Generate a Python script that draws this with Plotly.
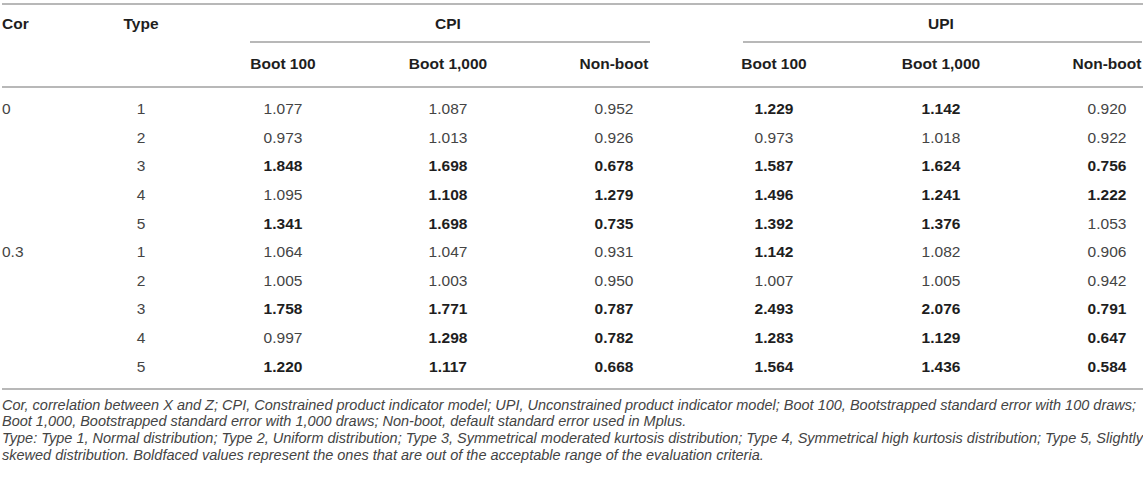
import plotly.graph_objects as go

# table contents
cor_levels = ["0", "0.3"]
types = [1, 2, 3, 4, 5]

col_groups = ["CPI", "UPI"]
col_headers = ["Boot 100", "Boot 1,000", "Non-boot"]

cpi_boot100 = [1.077, 0.973, 1.848, 1.095, 1.341, 1.064, 1.005, 1.758, 0.997, 1.220]
cpi_boot1000 = [1.087, 1.013, 1.698, 1.108, 1.698, 1.047, 1.003, 1.771, 1.298, 1.117]
cpi_nonboot = [0.952, 0.926, 0.678, 1.279, 0.735, 0.931, 0.950, 0.787, 0.782, 0.668]
upi_boot100 = [1.229, 0.973, 1.587, 1.496, 1.392, 1.142, 1.007, 2.493, 1.283, 1.564]
upi_boot1000 = [1.142, 1.018, 1.624, 1.241, 1.376, 1.082, 1.005, 2.076, 1.129, 1.436]
upi_nonboot = [0.920, 0.922, 0.756, 1.222, 1.053, 0.906, 0.942, 0.791, 0.647, 0.584]

# boldfaced = out of acceptable range
cpi_boot100_bold = [0, 0, 1, 0, 1, 0, 0, 1, 0, 1]
cpi_boot1000_bold = [0, 0, 1, 1, 1, 0, 0, 1, 1, 1]
cpi_nonboot_bold = [0, 0, 1, 1, 1, 0, 0, 1, 1, 1]
upi_boot100_bold = [1, 0, 1, 1, 1, 1, 0, 1, 1, 1]
upi_boot1000_bold = [1, 0, 1, 1, 1, 0, 0, 1, 1, 1]
upi_nonboot_bold = [0, 0, 1, 1, 0, 0, 0, 1, 1, 1]

footnotes = [
    "Cor, correlation between X and Z; CPI, Constrained product indicator model; UPI, Unconstrained product indicator model; Boot 100, Bootstrapped standard error with 100 draws;",
    "Boot 1,000, Bootstrapped standard error with 1,000 draws; Non-boot, default standard error used in Mplus.",
    "Type: Type 1, Normal distribution; Type 2, Uniform distribution; Type 3, Symmetrical moderated kurtosis distribution; Type 4, Symmetrical high kurtosis distribution; Type 5, Slightly",
    "skewed distribution. Boldfaced values represent the ones that are out of the acceptable range of the evaluation criteria.",
]

# layout (pixel-like axis units)
W, H = 1143, 477
FONT = "Liberation Sans, Arial, Helvetica, sans-serif"
TXT = "#444444"
BOLD = "#1e1e1e"
RULE = "#b8b8b8"
X_COR = 0
X_TYPE = 139
X_COLS = [281, 446, 612, 772, 939, 1105]
Y_HEAD1 = 25
Y_HEAD2 = 65
ROW0, ROW_H = 110, 28.66
Y_NOTE0, NOTE_H = 406, 16.8

values = [cpi_boot100, cpi_boot1000, cpi_nonboot, upi_boot100, upi_boot1000, upi_nonboot]
bolds = [cpi_boot100_bold, cpi_boot1000_bold, cpi_nonboot_bold,
         upi_boot100_bold, upi_boot1000_bold, upi_nonboot_bold]

n_rows = len(cor_levels) * len(types)
row_y = [ROW0 + i * ROW_H for i in range(n_rows)]

fig = go.Figure()


def add_text(xs, ys, texts, pos="middle center", size=15.5, color=TXT):
    fig.add_trace(go.Scatter(
        x=xs, y=ys, text=texts, mode="text", textposition=pos,
        textfont=dict(family=FONT, size=size, color=color),
        hoverinfo="skip", showlegend=False,
    ))


# header row 1
add_text([X_COR], [Y_HEAD1], ["<b>Cor</b>"], pos="middle right", color=BOLD)
add_text([X_TYPE], [Y_HEAD1], ["<b>Type</b>"], color=BOLD)
add_text([X_COLS[1], X_COLS[4]], [Y_HEAD1, Y_HEAD1],
         [f"<b>{g}</b>" for g in col_groups], color=BOLD)

# header row 2
hdr_t = [f"<b>{h}</b>" for h in col_headers] * len(col_groups)
add_text(X_COLS, [Y_HEAD2] * len(X_COLS), hdr_t, color=BOLD)

# cor / type columns
cor_col = []
for c in cor_levels:
    cor_col += [c] + [""] * (len(types) - 1)
add_text([X_COR] * n_rows, row_y, cor_col, pos="middle right")
add_text([X_TYPE] * n_rows, row_y, [str(t) for t in types] * len(cor_levels))

# values
for x, vals, bflags in zip(X_COLS, values, bolds):
    reg_y = [y for y, b in zip(row_y, bflags) if not b]
    reg_t = [f"{v:.3f}" for v, b in zip(vals, bflags) if not b]
    bld_y = [y for y, b in zip(row_y, bflags) if b]
    bld_t = [f"<b>{v:.3f}</b>" for v, b in zip(vals, bflags) if b]
    add_text([x] * len(reg_y), reg_y, reg_t)
    add_text([x] * len(bld_y), bld_y, bld_t, color=BOLD)

# footnotes
note_y = [Y_NOTE0 + i * NOTE_H for i in range(len(footnotes))]
add_text([X_COR] * len(footnotes), note_y, [f"<i>{t}</i>" for t in footnotes],
         pos="middle right", size=14.5, color=TXT)

# rules
rules = [
    (0, W, 4),
    (248, 648, 42),
    (741, 1140, 42),
    (0, W, 87),
    (0, W, 389),
]
for x0, x1, y in rules:
    fig.add_shape(type="line", x0=x0, x1=x1, y0=y, y1=y, xref="x", yref="y",
                  line=dict(color=RULE, width=2))

fig.update_layout(
    width=W, height=H,
    margin=dict(l=0, r=0, t=0, b=0),
    paper_bgcolor="white", plot_bgcolor="white",
    xaxis=dict(range=[-2, W - 2], visible=False, fixedrange=True),
    yaxis=dict(range=[H, 0], visible=False, fixedrange=True),
)

# drop the default 8px page margin so the table sits flush like the reference
fig.write_html("out.html", config={"displayModeBar": False},
               post_script="document.body.style.margin = '0';")
